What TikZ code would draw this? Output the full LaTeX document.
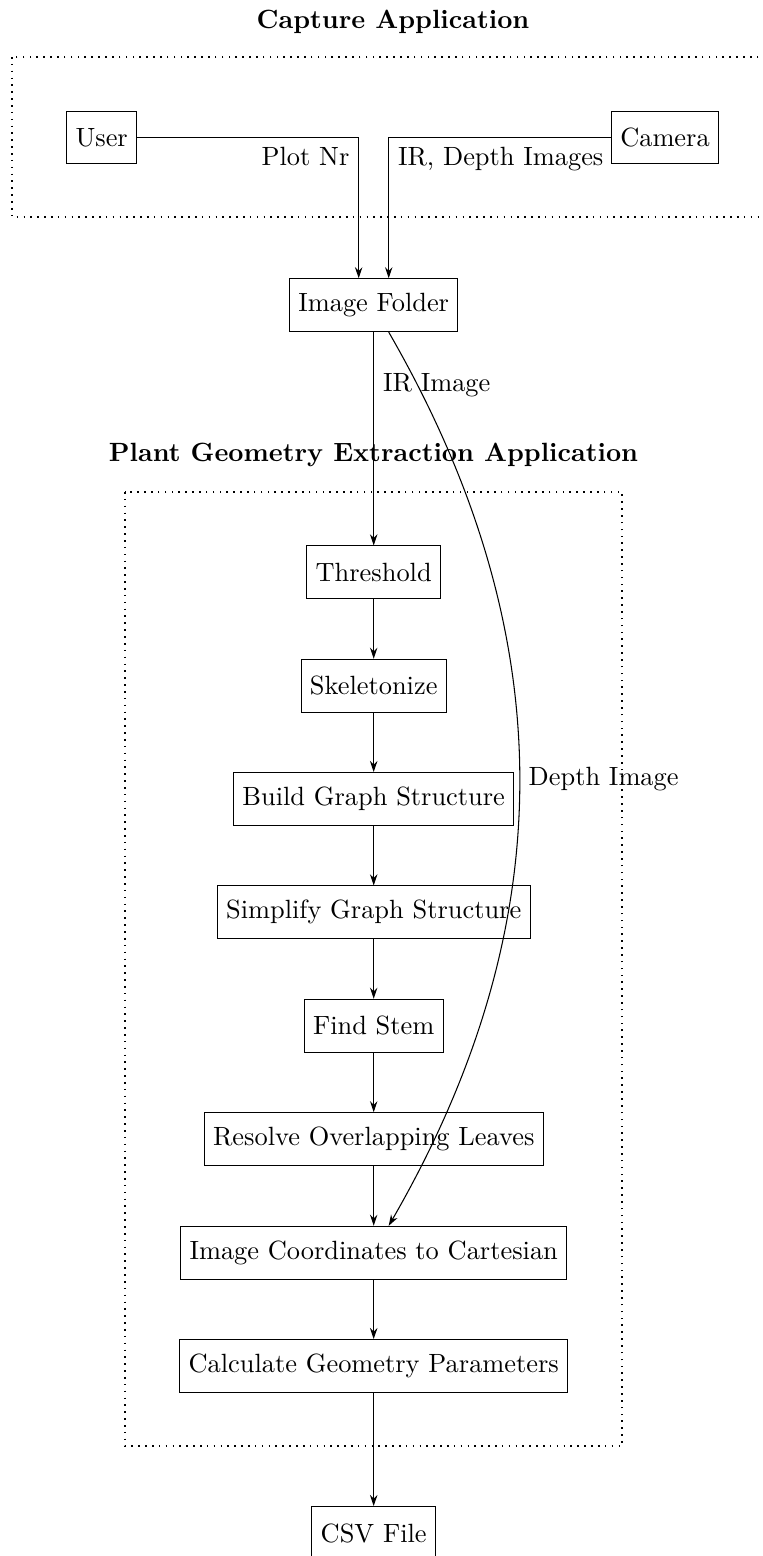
\documentclass[tikz,border=0pt]{standalone}
\usetikzlibrary{arrows.meta}
\begin{document}
\begin{tikzpicture}[x=0.3790pt,y=-0.3790pt,
  box/.style={draw, minimum height=20pt, inner xsep=3.33pt},
  arr/.style={-{Stealth[length=4.2pt,width=2.8pt]}},
  group/.style={dotted, line width=0.6pt},
  grouptitle/.style={font=\bfseries}]
\useasboundingbox (0,0) rectangle (763,1556);
\clip (0,0) rectangle (763,1556);

% Capture application
\node[grouptitle] (captitle) at (393,22) {Capture Application};
\draw[group] (12,57) rectangle (774,217);
\node[box] (user) at (101.7,137.5) {User};
\node[box] (camera) at (665,137.5) {Camera};

\node[box] (folder) at (373.7,305.2) {Image Folder};

% Plant geometry extraction application
\node[grouptitle] (pgtitle) at (373.5,455) {Plant Geometry Extraction Application};
\draw[group] (125,492) rectangle (622,1446);
\node[box] (thr) at (373.7,572.3) {Threshold};
\node[box] (skel) at (373.7,685.7) {Skeletonize};
\node[box] (build) at (373.7,799) {Build Graph Structure};
\node[box] (simp) at (373.7,912.3) {Simplify Graph Structure};
\node[box] (stem) at (373.7,1025.7) {Find Stem};
\node[box] (resolve) at (373.7,1139.2) {Resolve Overlapping Leaves};
\node[box] (coords) at (373.7,1252.7) {Image Coordinates to Cartesian};
\node[box] (calc) at (373.7,1366) {Calculate Geometry Parameters};
\node[box] (csv) at (373.7,1533) {CSV File};

% connectors
\draw[arr] (user) -| node[below left] {Plot Nr} ([xshift=-0.2cm]folder.north);
\draw[arr] (camera) -| node[below right] {IR, Depth Images} ([xshift=0.2cm]folder.north);
\draw[arr] (folder) -- node[right, near start] {IR Image} (thr);
\draw[arr] (thr) -- (skel);
\draw[arr] (skel) -- (build);
\draw[arr] (build) -- (simp);
\draw[arr] (simp) -- (stem);
\draw[arr] (stem) -- (resolve);
\draw[arr] (resolve) -- (coords);
\draw[arr] (coords) -- (calc);
\draw[arr] (calc) -- (csv);
\draw[arr] ([xshift=0.2cm]folder.south) to[bend left=30] node[right] {Depth Image} ([xshift=0.2cm]coords.north);
\end{tikzpicture}
\end{document}
